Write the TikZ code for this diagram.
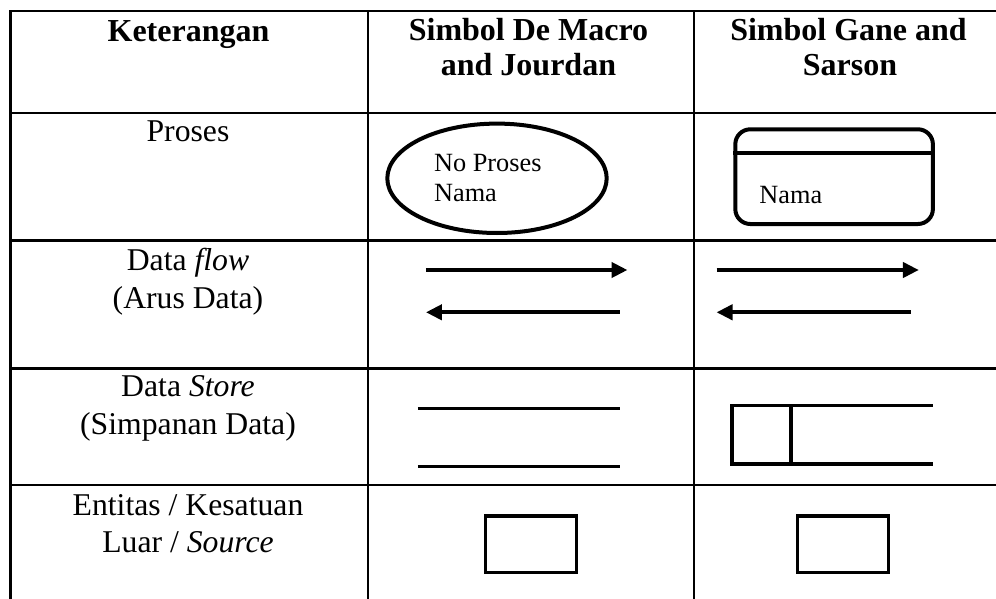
\documentclass[tikz,border=0pt]{standalone}
\usepackage{fontspec}
\setmainfont{Liberation Serif}
\usetikzlibrary{arrows.meta,shapes.geometric}

\tikzset{
  grid/.style={line width=2.5pt},
  shapeline/.style={line width=4pt},
  storeline/.style={line width=3.5pt},
  flowarrow/.style={line width=4pt,-{Triangle[length=16pt,width=15pt]}},
  hdr/.style={font=\bfseries\fontsize{32}{34}\selectfont,anchor=base,inner sep=0pt},
  desc/.style={font=\fontsize{31.7}{37}\selectfont,anchor=base,inner sep=0pt},
  lbl/.style={font=\fontsize{26.3}{30}\selectfont,anchor=base west,inner sep=0pt},
  entity/.style={draw,storeline,rectangle,minimum width=91.2pt,minimum height=56.5pt,inner sep=0pt},
}

\begin{document}
\begin{tikzpicture}[x=1pt,y=-1pt]
\useasboundingbox (0,0) rectangle (996,599);

% table rules
\draw[grid] (10.7,599) -- (10.7,11.2) -- (996,11.2);
\draw[grid] (368,11.2) -- (368,599);
\draw[grid] (694,11.2) -- (694,599);
\foreach \yy in {112.8,240.7,368.3,485.2}
  \draw[grid] (10.7,\yy) -- (996,\yy);

% header row
\node[hdr] (h1) at (188.5,41.7) {Keterangan};
\node[hdr] (h2a) at (528.5,41) {Simbol De Macro};
\node[hdr] (h2b) at (528.5,75.3) {and Jourdan};
\node[hdr] (h3a) at (848.5,41) {Simbol Gane and};
\node[hdr] (h3b) at (850,75.3) {Sarson};

% left column descriptions
\node[desc] (d1) at (188,141.7) {Proses};
\node[desc] (d2a) at (188,270.7) {Data \textit{flow}};
\node[desc] (d2b) at (188,308.2) {(Arus Data)};
\node[desc] (d3a) at (188,396.7) {Data \textit{Store}};
\node[desc] (d3b) at (188,434.4) {(Simpanan Data)};
\node[desc] (d4a) at (188,515) {Entitas / Kesatuan};
\node[desc] (d4b) at (188,552.8) {Luar / \textit{Source}};

% process symbols
\node[draw,shapeline,ellipse,minimum width=219.4pt,minimum height=109.4pt,inner sep=0pt]
  (procA) at (497,178.3) {};
\node[lbl] (procAno) at (433.9,171.7) {No Proses};
\node[lbl] (procAname) at (433.9,201.7) {Nama};

\node[draw,shapeline,rectangle,rounded corners=15pt,minimum width=197.6pt,
  minimum height=94.7pt,inner sep=0pt] (procB) at (834.1,176.65) {};
\path (procB.north west) ++(0,25.7) coordinate (pbL);
\path (procB.north east) ++(0,25.7) coordinate (pbR);
\draw[shapeline] (pbL) -- (pbR);
\node[lbl] (procBname) at (759.2,203.3) {Nama};

% data flow arrows
\coordinate (fA1s) at (425.9,270);
\coordinate (fA1e) at (627.5,270);
\coordinate (fA2s) at (619.5,312.3);
\coordinate (fA2e) at (425.9,312.3);
\coordinate (fB1s) at (716.5,270);
\coordinate (fB1e) at (918.9,270);
\coordinate (fB2s) at (910.9,312.3);
\coordinate (fB2e) at (716.5,312.3);
\draw[flowarrow] (fA1s) -- (fA1e);
\draw[flowarrow] (fA2s) -- (fA2e);
\draw[flowarrow] (fB1s) -- (fB1e);
\draw[flowarrow] (fB2s) -- (fB2e);

% data store symbols
\coordinate (sA1) at (417.9,408.3);
\coordinate (sA2) at (619.5,408.3);
\coordinate (sA3) at (417.9,466.7);
\coordinate (sA4) at (619.5,466.7);
\draw[storeline] (sA1) -- (sA2);
\draw[storeline] (sA3) -- (sA4);

\coordinate (sB1) at (932.9,405.7);
\coordinate (sB2) at (732,405.7);
\coordinate (sB3) at (732,464);
\coordinate (sB4) at (932.9,464);
\coordinate (sB5) at (791.2,405.7);
\coordinate (sB6) at (791.2,464);
\draw[storeline,line join=miter] (sB1) -- (sB2) -- (sB3) -- (sB4);
\draw[storeline] (sB5) -- (sB6);

% external entity symbols
\node[entity] (entA) at (531.1,544.3) {};
\node[entity] (entB) at (843.1,544.3) {};
\end{tikzpicture}
\end{document}
